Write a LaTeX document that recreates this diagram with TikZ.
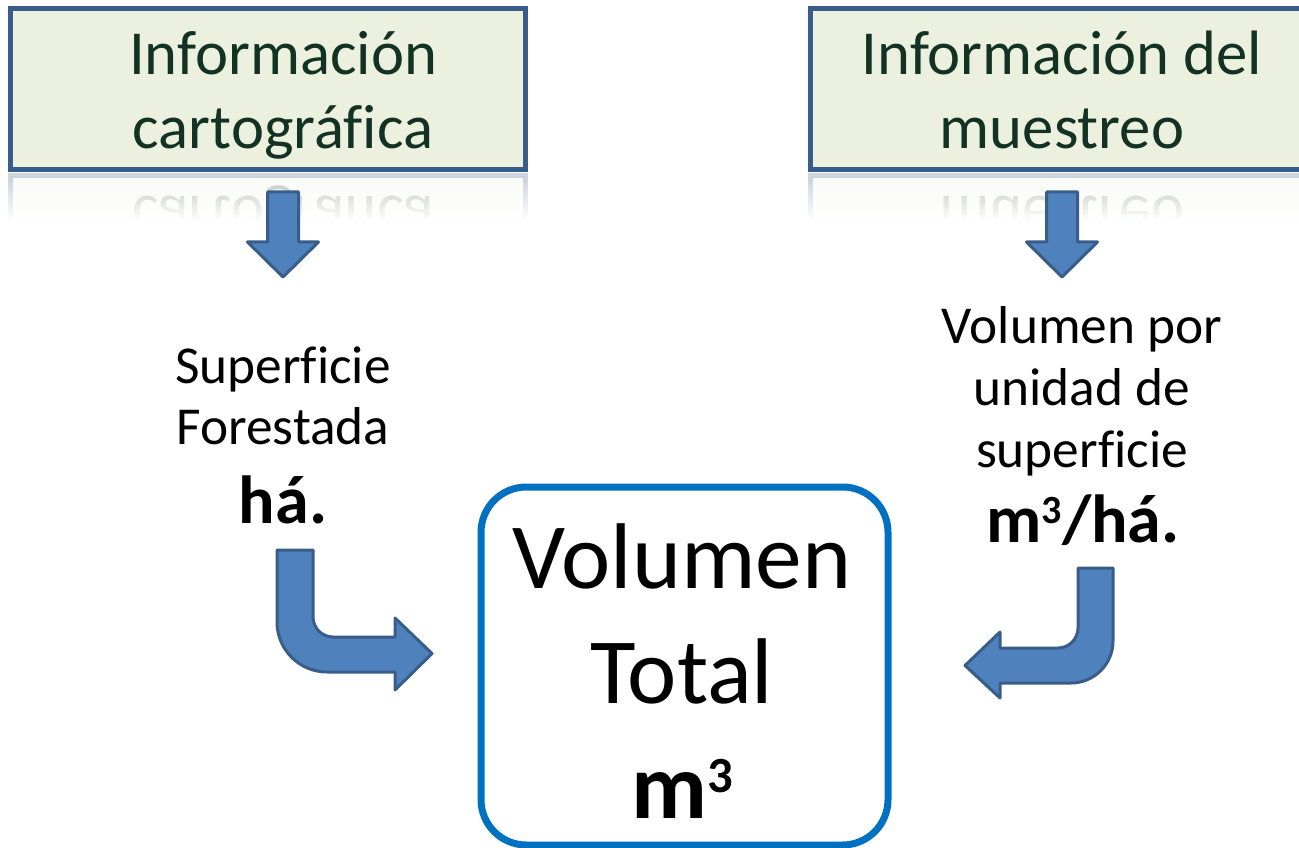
\documentclass[tikz,border=0pt]{standalone}
\usepackage{fontspec}
\setmainfont{Carlito}[Ligatures=NoCommon]
\usetikzlibrary{positioning,fadings}

\definecolor{infofill}{RGB}{235,241,222}
\definecolor{infoline}{RGB}{56,93,138}
\definecolor{infotext}{RGB}{20,50,35}
\definecolor{arrfill}{RGB}{79,129,189}
\definecolor{arrline}{RGB}{56,93,138}
\definecolor{totline}{RGB}{0,112,192}

\newcommand{\cubo}[2]{\raisebox{#2}{\fontsize{#1}{#1}\selectfont 3}}

\begin{document}
\begin{tikzpicture}[
  x=0.75pt, y=-0.75pt,
  infobox/.style={draw=infoline, fill=infofill, line width=3.75pt,
    minimum width=385.9pt, minimum height=120.75pt, inner sep=0pt},
  infotxt/.style={text=infotext, align=center, anchor=base,
    font=\fontsize{47}{56}\selectfont},
  sidetxt/.style={align=center, anchor=base, font=\fontsize{40}{46.5}\selectfont},
  unittxt/.style={anchor=base, font=\fontsize{51}{60}\selectfont\bfseries},
  totbox/.style={draw=totline, line width=5.25pt, rounded corners=34pt,
    minimum width=305.25pt, minimum height=268.5pt, inner sep=0pt},
  tottxt/.style={align=center, anchor=base, font=\fontsize{70}{86.25}\selectfont},
  blockarr/.style={draw=arrline, fill=arrfill, line width=2.25pt, line join=round}
]
\useasboundingbox (0,0) rectangle (1299,848);

% reflections under the top boxes
\begin{scope}
  \clip (0,174) rectangle (1299,220);
  \begin{scope}[shift={(0,346)}, yscale=-1, transform shape, opacity=0.25]
    \node[infobox] (cartorefl) at (267.75,89.5) {};
    \node[infotxt] at (283,149) {Información\\cartográfica};
    \node[infobox] (muestreorefl) at (1068.25,89.5) {};
    \node[infotxt] at (1062,149) {Información del\\muestreo};
  \end{scope}
\end{scope}
\fill[white, path fading=north] (0,178) rectangle (1299,221);

% top boxes
\node[infobox] (carto) at (267.75,89.5) {};
\node[infotxt] (cartotxt) at (283,149) {Información\\cartográfica};
\node[infobox] (muestreo) at (1068.25,89.5) {};
\node[infotxt] (muestreotxt) at (1062,149) {Información del\\muestreo};

% down arrows
\draw[blockarr] (267.5,192) -- (298.5,192) -- (298.5,242) -- (318.5,242)
  -- (283,277) -- (247.5,242) -- (267.5,242) -- cycle;
\draw[blockarr] (1046.5,192) -- (1077.5,192) -- (1077.5,242) -- (1097.5,242)
  -- (1062,277) -- (1026.5,242) -- (1046.5,242) -- cycle;

% side texts
\node[sidetxt] (superficie) at (283,445) {Superficie\\Forestada};
\node[unittxt] (ha) at (283,523) {há.};
\node[sidetxt] (volunidad) at (1082,467) {Volumen por\\unidad de\\superficie};
\node[unittxt] (m3ha) at (1083,542) {m\cubo{30}{14pt}/há.};

% bent arrows
\draw[blockarr] (277,550) -- (313,550) -- (313,617)
  .. controls (313,628) and (322,637) .. (333,637) -- (395,637) -- (395,618)
  -- (432,653.5) -- (395,690) -- (395,672) -- (327,672)
  .. controls (299.4,672) and (277,649.6) .. (277,622) -- cycle;
\draw[blockarr] (1113,568) -- (1078,568) -- (1078,628)
  .. controls (1078,639) and (1069,648) .. (1058,648) -- (1000,648) -- (1000,632)
  -- (965,665.5) -- (1000,698) -- (1000,683) -- (1071,683)
  .. controls (1094.2,683) and (1113,664.2) .. (1113,641) -- cycle;

% total box
\node[totbox] (total) at (684.5,666) {};
\node[tottxt] (totaltxt) at (682,818) {Volumen\\Total\\\textbf{m\cubo{38}{19.5pt}}};
\end{tikzpicture}
\end{document}
